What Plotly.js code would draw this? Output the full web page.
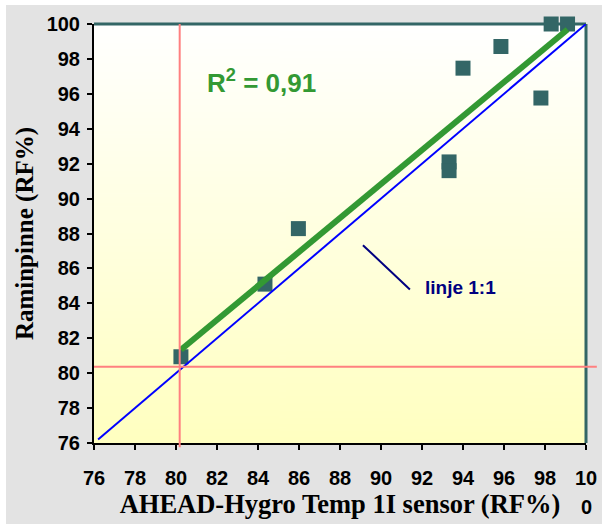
<!DOCTYPE html>
<html><head><meta charset="utf-8">
<script src="https://cdn.plot.ly/plotly-3.0.1.min.js"></script>
<style>html,body{margin:0;padding:0;background:#fff;} #chart{width:602px;height:524px;}</style>
</head><body><div id="chart"></div>
<script>
// ---- data ----
const sensorRF     = [80.24, 84.34, 85.97, 93.32, 93.32, 94.0, 95.85, 97.8, 98.3, 99.1];
const raminpinneRF = [80.94, 85.1, 88.28, 92.1, 91.6, 97.47, 98.71, 95.76, 100, 100];
const oneToOneLine = [76.2, 100];
const axisTicks    = [76, 78, 80, 82, 84, 86, 88, 90, 92, 94, 96, 98, 100];
const xTickLabels  = ['76','78','80','82','84','86','88','90','92','94','96','98','10'];
const yTickLabels  = ['76','78','80','82','84','86','88','90','92','94','96','98','100'];
const refLineX = 80.18;
const refLineY = 80.37;
const r2Text = 'R<sup>2</sup> = 0,91';
const lineLabel = 'linje 1:1';
const leaderX = [89.12, 91.41];
const leaderY = [87.33, 84.79];

// least squares fit through the points
const n = sensorRF.length;
const mx = sensorRF.reduce((a,b)=>a+b,0)/n;
const my = raminpinneRF.reduce((a,b)=>a+b,0)/n;
let sxy = 0, sxx = 0;
for (let i=0;i<n;i++){ sxy += (sensorRF[i]-mx)*(raminpinneRF[i]-my); sxx += (sensorRF[i]-mx)**2; }
const slope = sxy/sxx, icpt = my - slope*mx;
const fitX = [Math.min(...sensorRF), Math.max(...sensorRF)];
const fitY = fitX.map(v => icpt + slope*v);

// gradient image for plot area
const cv = document.createElement('canvas'); cv.width = 4; cv.height = 256;
const cx = cv.getContext('2d');
const gr = cx.createLinearGradient(0,0,0,256);
gr.addColorStop(0,'#ffffff'); gr.addColorStop(1,'#ffffc0');
cx.fillStyle = gr; cx.fillRect(0,0,4,256);
const gradURL = cv.toDataURL('image/png');

const sans = 'Liberation Sans, Arial, sans-serif';
const serif = 'Liberation Serif, Times New Roman, serif';
const bold = s => '<b>' + s + '</b>';

const traces = [
  {x: sensorRF, y: raminpinneRF, mode: 'markers', type: 'scatter', cliponaxis: false,
   marker: {symbol: 'square', size: 15, color: '#336666'}, hoverinfo: 'x+y'},
  {x: fitX, y: fitY, mode: 'lines', type: 'scatter', line: {color: '#339933', width: 6}},
  {x: oneToOneLine, y: oneToOneLine, mode: 'lines', type: 'scatter', line: {color: '#0000ff', width: 2}}
];

const axisCommon = {
  range: [76, 100], tickmode: 'array', tickvals: axisTicks,
  showgrid: false, zeroline: false, showline: true, linecolor: '#000', linewidth: 2,
  ticks: 'outside', ticklen: 5, tickwidth: 2, tickcolor: '#000',
  tickfont: {family: sans, size: 20, color: '#000', weight: 700}
};

const layout = {
  width: 602, height: 524,
  margin: {l: 94, r: 16, t: 24, b: 81},
  paper_bgcolor: '#e3e3e3', plot_bgcolor: '#ffffff',
  showlegend: false,
  xaxis: Object.assign({}, axisCommon, {ticktext: xTickLabels.map(bold), ticklabelstandoff: 11,
    title: {text: bold('AHEAD-Hygro Temp 1I sensor (RF%)'), font: {family: serif, size: 26.5, color: '#000', weight: 700}, standoff: 6}}),
  yaxis: Object.assign({}, axisCommon, {ticktext: yTickLabels.map(bold), ticklabelstandoff: 3,
    title: {text: bold('Raminpinne (RF%)'), font: {family: serif, size: 25, color: '#000', weight: 700}, standoff: 6}}),
  images: [{source: gradURL, xref: 'paper', yref: 'paper', x: 0, y: 1, sizex: 1, sizey: 1,
    sizing: 'stretch', xanchor: 'left', yanchor: 'top', layer: 'below'}],
  shapes: [
    {type: 'rect', xref: 'paper', yref: 'paper', x0: -0.2, x1: 1.1, y0: 1.0453, y1: 1.1, fillcolor: '#ffffff', line: {width: 0}, layer: 'below'},
    {type: 'rect', xref: 'paper', yref: 'paper', x0: -0.2, x1: -0.1789, y0: -0.3, y1: 1.1, fillcolor: '#ffffff', line: {width: 0}, layer: 'below'},
    {type: 'line', xref: 'paper', yref: 'paper', x0: 0, x1: 1, y0: 1, y1: 1, line: {color: '#336666', width: 3}, layer: 'below'},
    {type: 'line', xref: 'paper', yref: 'paper', x0: 1, x1: 1, y0: 0, y1: 1, line: {color: '#336666', width: 3}, layer: 'below'},
    {type: 'line', xref: 'x', yref: 'paper', x0: refLineX, x1: refLineX, y0: -0.01, y1: 1, line: {color: '#ff8080', width: 2}},
    {type: 'line', xref: 'paper', yref: 'y', x0: 0, x1: 1.022, y0: refLineY, y1: refLineY, line: {color: '#ff8080', width: 2}},
    {type: 'line', xref: 'x', yref: 'y', x0: leaderX[0], x1: leaderX[1], y0: leaderY[0], y1: leaderY[1], line: {color: '#000080', width: 2}}
  ],
  annotations: [
    {text: bold(r2Text), xref: 'paper', yref: 'paper', x: 0.2256, y: 0.862, xanchor: 'left', yanchor: 'middle', showarrow: false,
     font: {family: sans, size: 26, color: '#339933', weight: 700}},
    {text: bold(lineLabel), xref: 'paper', yref: 'paper', x: 0.6687, y: 0.3723, xanchor: 'left', yanchor: 'middle', showarrow: false,
     font: {family: sans, size: 19, color: '#000080', weight: 700}},
    {text: bold('0'), xref: 'x', yref: 'paper', x: 100, y: -0.152, xanchor: 'center', yanchor: 'middle', showarrow: false,
     font: {family: sans, size: 20, color: '#000', weight: 700}}
  ]
};

Plotly.newPlot('chart', traces, layout, {displayModeBar: false, staticPlot: true});
</script>
</body></html>
